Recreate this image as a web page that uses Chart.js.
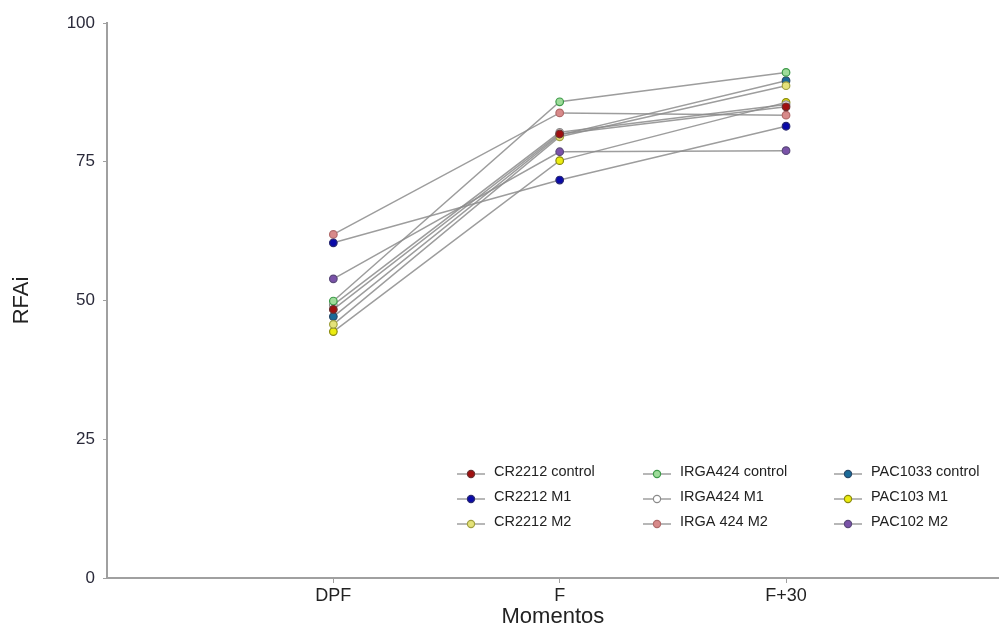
<!DOCTYPE html>
<html>
<head>
<meta charset="utf-8">
<script src="https://cdn.jsdelivr.net/npm/chart.js@4/dist/chart.umd.min.js"></script>
<style>
  html, body { margin: 0; padding: 0; background: #fff; }
</style>
</head>
<body>
<canvas id="rfai-chart" width="1004" height="628"></canvas>
<script>
const momentos = ["DPF", "F", "F+30"];
const yTicks = [0, 25, 50, 75, 100];

const seriesNames = [
    "CR2212 control", "CR2212 M1", "CR2212 M2",
    "IRGA424 control", "IRGA424 M1", "IRGA 424 M2",
    "PAC1033 control", "PAC103 M1", "PAC102 M2"
];

// RFAi per momento (DPF, F, F+30)
const cr2212Control = [48.4, 80.0, 84.9];
const cr2212M1 = [60.4, 71.7, 81.4];
const cr2212M2 = [45.7, 79.5, 88.7];
const irga424Control = [49.9, 85.8, 91.1];
const irga424M1 = [49.2, 80.3, 85.3];
const irga424M2 = [61.9, 83.8, 83.4];
const pac1033Control = [47.1, 79.8, 89.6];
const pac103M1 = [44.4, 75.2, 85.7];
const pac102M2 = [53.9, 76.8, 77.0];

const seriesValues = [
    cr2212Control, cr2212M1, cr2212M2,
    irga424Control, irga424M1, irga424M2,
    pac1033Control, pac103M1, pac102M2
];

const fills = ["#a01010", "#0a0aa8", "#e4e27a", "#9edc9a", "#ffffff", "#d88a8a", "#1a6a98", "#ecec10", "#7a52a8"];
const borders = ["#6a3030", "#2a2a70", "#a0a040", "#3e9a4a", "#8a8a8a", "#b06a6a", "#2a4a6a", "#8a8a10", "#5a4a7a"];

const datasets = seriesNames.map((name, i) => ({
    label: name,
    data: seriesValues[i].map((v, j) => ({ x: j + 1, y: v })),
    borderColor: "rgba(140,140,140,0.85)",
    borderWidth: 1.5,
    backgroundColor: fills[i],
    pointBackgroundColor: fills[i],
    pointBorderColor: borders[i],
    pointBorderWidth: 1.2,
    pointRadius: 3.8,
    tension: 0
}));

// legend drawn in three columns, as in the original figure
const gridLegend = {
    id: "gridLegend",
    afterDraw(chart) {
        const ctx = chart.ctx;
        const colX = [457, 643, 834];
        const rowY = [472, 497, 522];
        ctx.save();
        chart.data.datasets.forEach((ds, i) => {
            const x0 = colX[Math.floor(i / 3)];
            const y = rowY[i % 3];
            ctx.strokeStyle = "#909090";
            ctx.lineWidth = 1.3;
            ctx.beginPath();
            ctx.moveTo(x0, y + 2);
            ctx.lineTo(x0 + 28, y + 2);
            ctx.stroke();
            ctx.beginPath();
            ctx.arc(x0 + 14, y + 2, 3.6, 0, Math.PI * 2);
            ctx.fillStyle = ds.pointBackgroundColor;
            ctx.fill();
            ctx.strokeStyle = ds.pointBorderColor;
            ctx.lineWidth = 1.2;
            ctx.stroke();
            ctx.fillStyle = "#222";
            ctx.font = "14.5px 'Liberation Sans', Arial, sans-serif";
            ctx.textBaseline = "middle";
            ctx.fillText(ds.label, x0 + 37, y);
        });
        ctx.restore();
    }
};

new Chart(document.getElementById("rfai-chart"), {
    type: "line",
    data: { datasets: datasets },
    options: {
        responsive: false,
        animation: false,
        layout: { padding: { top: 23, right: 0, left: 0, bottom: 0 } },
        plugins: {
            legend: { display: false },
            tooltip: { enabled: false }
        },
        scales: {
            x: {
                type: "linear",
                min: 0,
                max: 3.94,
                afterBuildTicks: (scale) => {
                    scale.ticks = momentos.map((m, i) => ({ value: i + 1 }));
                },
                afterFit: (scale) => { scale.height = 50; },
                ticks: {
                    callback: (value) => momentos[value - 1],
                    color: "#222",
                    font: { family: "'Liberation Sans', Arial", size: 18 },
                    padding: 2,
                    maxRotation: 0
                },
                grid: {
                    drawOnChartArea: false,
                    color: "#a0a0a0",
                    tickLength: 5
                },
                border: { color: "#a0a0a0", width: 2 },
                title: {
                    display: true,
                    text: "Momentos",
                    color: "#222",
                    font: { family: "'Liberation Sans', Arial", size: 22, lineHeight: 1.0 },
                    padding: 0
                }
            },
            y: {
                min: 0,
                max: 100,
                afterBuildTicks: (scale) => {
                    scale.ticks = yTicks.map(v => ({ value: v }));
                },
                afterFit: (scale) => { scale.width = 107; },
                ticks: {
                    color: "#2a2a3a",
                    font: { family: "'Liberation Sans', Arial", size: 17 },
                    padding: 8
                },
                grid: {
                    drawOnChartArea: false,
                    color: "#a0a0a0",
                    tickLength: 4
                },
                border: { color: "#a0a0a0", width: 2 },
                title: {
                    display: true,
                    text: "RFAi",
                    color: "#222",
                    font: { family: "'Liberation Sans', Arial", size: 22 },
                    padding: { top: 9, bottom: 0 }
                }
            }
        }
    },
    plugins: [gridLegend]
});
</script>
</body>
</html>
